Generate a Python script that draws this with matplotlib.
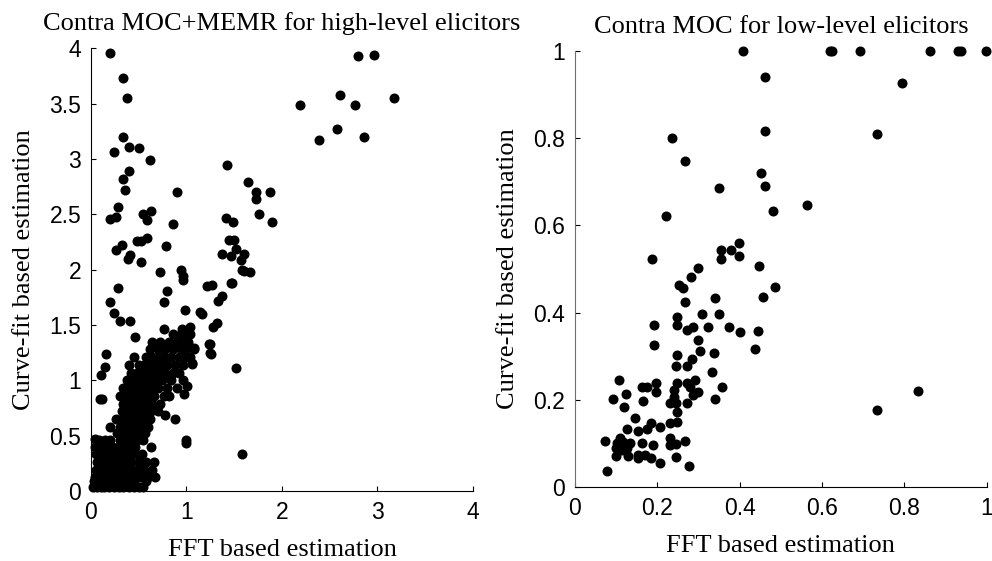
import matplotlib
matplotlib.use("Agg")
import matplotlib.pyplot as plt

# ---------------- Left panel data: Contra MOC+MEMR (high-level) ----------------
left_sparse_x = [0.20, 0.34, 0.38, 0.34, 0.24, 0.40, 0.50, 0.62, 0.40, 0.34, 0.36, 0.90,
                 0.28, 0.20, 0.26, 0.54, 0.63, 0.59, 0.86, 0.32, 0.26, 0.48, 0.52, 0.59,
                 0.79, 0.41, 0.39, 0.52, 0.72, 0.94, 0.96,
                 1.42, 1.64, 1.73, 1.73, 1.87, 1.76, 1.90, 1.41, 1.49, 1.45, 1.50, 1.52,
                 1.37, 1.47, 1.57, 1.60, 1.58, 1.60, 1.67, 1.48,
                 2.19, 2.39, 2.58, 2.61, 2.76, 2.80, 2.96, 2.86, 3.17,
                 0.28, 0.20, 0.24, 0.30, 0.41, 0.80, 0.76, 0.96, 0.98, 1.14, 1.16, 1.21,
                 1.27, 1.47, 1.37, 1.33, 1.32, 1.28, 1.24, 1.25, 1.52, 1.58, 1.00, 0.99,
                 0.76, 0.95, 1.04, 0.46, 1.25, 1.26, 1.06, 0.16, 0.15, 0.10, 0.09, 0.12,
                 0.26, 0.20, 0.04, 0.08, 0.63, 0.88, 0.78, 1.01, 0.97, 1.06, 1.08]
left_sparse_y = [3.96, 3.73, 3.55, 3.20, 3.06, 3.11, 3.10, 2.99, 2.89, 2.82, 2.72, 2.70,
                 2.57, 2.46, 2.48, 2.50, 2.53, 2.45, 2.41, 2.22, 2.18, 2.26, 2.26, 2.29,
                 2.21, 2.13, 2.10, 2.07, 1.98, 2.00, 1.94,
                 2.95, 2.79, 2.70, 2.64, 2.70, 2.50, 2.43, 2.47, 2.43, 2.27, 2.27, 2.19,
                 2.14, 2.12, 2.09, 2.14, 2.00, 1.99, 1.98, 1.88,
                 3.49, 3.17, 3.27, 3.58, 3.49, 3.93, 3.94, 3.20, 3.55,
                 1.83, 1.71, 1.61, 1.54, 1.54, 1.81, 1.71, 1.91, 1.64, 1.62, 1.60, 1.85,
                 1.86, 1.88, 1.76, 1.72, 1.52, 1.48, 1.33, 1.25, 1.11, 0.33, 0.46, 0.43,
                 1.46, 1.46, 1.48, 1.39, 1.33, 1.24, 1.15, 1.24, 1.12, 1.05, 0.83, 0.83,
                 0.65, 0.58, 0.47, 0.46, 0.40, 0.65, 0.69, 0.95, 0.88, 1.16, 1.29]

# dense cluster, read row by row (approximate y level, x positions)
dense_rows = {
    0.04: [0.02, 0.06, 0.10, 0.14, 0.19, 0.24, 0.29, 0.34, 0.40, 0.45, 0.50, 0.55],
    0.09: [0.03, 0.08, 0.13, 0.18, 0.23, 0.28, 0.33, 0.38, 0.45, 0.58],
    0.13: [0.04, 0.09, 0.15, 0.21, 0.27, 0.33, 0.39, 0.44, 0.52, 0.60, 0.67],
    0.19: [0.05, 0.11, 0.17, 0.23, 0.29, 0.35, 0.41, 0.47, 0.52, 0.56, 0.64],
    0.26: [0.06, 0.12, 0.18, 0.24, 0.30, 0.36, 0.42, 0.50, 0.58, 0.66],
    0.33: [0.05, 0.11, 0.17, 0.23, 0.29, 0.35, 0.41, 0.47, 0.53],
    0.40: [0.04, 0.10, 0.16, 0.22, 0.28, 0.34, 0.40, 0.46],
    0.46: [0.15, 0.20, 0.30, 0.36, 0.42, 0.48, 0.54],
    0.52: [0.27, 0.33, 0.39, 0.45, 0.51, 0.57],
    0.58: [0.30, 0.36, 0.42, 0.48, 0.54, 0.60],
    0.65: [0.32, 0.38, 0.44, 0.50, 0.56, 0.62],
    0.72: [0.33, 0.39, 0.45, 0.51, 0.57, 0.63, 0.70],
    0.79: [0.34, 0.40, 0.46, 0.52, 0.58, 0.64, 0.72],
    0.86: [0.30, 0.36, 0.42, 0.48, 0.54, 0.60, 0.66, 0.76, 0.82],
    0.93: [0.34, 0.40, 0.46, 0.52, 0.58, 0.64, 0.70, 0.80, 0.90],
    1.00: [0.38, 0.44, 0.50, 0.56, 0.62, 0.68, 0.74, 0.84, 0.96],
    1.07: [0.42, 0.48, 0.54, 0.60, 0.66, 0.72, 0.78, 0.86, 0.92],
    1.14: [0.40, 0.50, 0.56, 0.62, 0.68, 0.74, 0.80, 0.88, 0.96],
    1.21: [0.45, 0.58, 0.64, 0.70, 0.76, 0.84, 0.92, 0.98, 1.04],
    1.28: [0.62, 0.70, 0.78, 0.86, 0.94, 1.00, 1.08],
    1.35: [0.64, 0.72, 0.82, 0.90, 0.96, 1.02],
    1.42: [0.86, 0.94, 0.98, 1.04],
}

# ---------------- Right panel data: Contra MOC (low-level) ----------------
right_x = [0.407, 0.619, 0.625, 0.692, 0.861, 0.931, 0.938, 0.998,
           0.461, 0.795, 0.461, 0.734, 0.235, 0.268, 0.453, 0.349, 0.461, 0.480, 0.564,
           0.222, 0.188, 0.355, 0.379, 0.398, 0.355, 0.398, 0.300, 0.281, 0.253, 0.263,
           0.448, 0.485, 0.457, 0.268, 0.341, 0.249, 0.249, 0.309, 0.350, 0.193, 0.273,
           0.287, 0.322, 0.373, 0.402, 0.444, 0.438, 0.193, 0.300, 0.304, 0.337, 0.249,
           0.284, 0.273, 0.245, 0.334, 0.106, 0.163, 0.175, 0.198, 0.198, 0.249, 0.240,
           0.273, 0.291, 0.279, 0.300, 0.286, 0.356, 0.341, 0.125, 0.092, 0.119, 0.166,
           0.240, 0.231, 0.245, 0.273, 0.249, 0.147, 0.184, 0.175, 0.127, 0.152, 0.207,
           0.231, 0.249, 0.074, 0.109, 0.101, 0.117, 0.134, 0.100, 0.114, 0.126, 0.100,
           0.130, 0.162, 0.189, 0.152, 0.170, 0.184, 0.152, 0.207, 0.231, 0.231, 0.245,
           0.268, 0.245, 0.277, 0.078, 0.734, 0.832]
right_y = [1.000, 1.000, 1.000, 1.000, 1.000, 1.000, 1.000, 1.000,
           0.939, 0.927, 0.817, 0.809, 0.801, 0.747, 0.721, 0.686, 0.691, 0.633, 0.647,
           0.621, 0.524, 0.543, 0.543, 0.560, 0.524, 0.530, 0.503, 0.482, 0.463, 0.456,
           0.507, 0.459, 0.437, 0.425, 0.433, 0.391, 0.372, 0.398, 0.398, 0.372, 0.360,
           0.368, 0.368, 0.368, 0.355, 0.359, 0.316, 0.325, 0.337, 0.312, 0.307, 0.303,
           0.295, 0.278, 0.278, 0.263, 0.246, 0.229, 0.229, 0.238, 0.219, 0.240, 0.224,
           0.240, 0.246, 0.230, 0.219, 0.211, 0.229, 0.202, 0.213, 0.202, 0.185, 0.198,
           0.208, 0.194, 0.194, 0.194, 0.172, 0.159, 0.148, 0.133, 0.133, 0.130, 0.137,
           0.147, 0.150, 0.107, 0.114, 0.101, 0.104, 0.101, 0.089, 0.085, 0.089, 0.072,
           0.072, 0.102, 0.097, 0.074, 0.074, 0.066, 0.068, 0.055, 0.112, 0.097, 0.100,
           0.107, 0.069, 0.049, 0.037, 0.177, 0.221]

left_ticks = [0, 1, 2, 3, 4]
left_yticks = [0, 0.5, 1, 1.5, 2, 2.5, 3, 3.5, 4]
right_ticks = [0, 0.2, 0.4, 0.6, 0.8, 1]

title_left = "Contra MOC+MEMR for high-level elicitors"
title_right = "Contra MOC for low-level elicitors"
xlabel = "FFT based estimation"
ylabel = "Curve-fit based estimation"

dense_x = [x for y, xs in dense_rows.items() for x in xs]
dense_y = [y for y, xs in dense_rows.items() for x in xs]

serif = ["Liberation Serif", "DejaVu Serif"]
sans = ["Liberation Sans", "DejaVu Sans"]
TFS = 19
LFS = 19
TKFS = 16.5

fig = plt.figure(figsize=(9.92, 5.61), dpi=100)
axL = fig.add_axes([0.0917, 0.1248, 0.3851, 0.789])
axR = fig.add_axes([0.5796, 0.1314, 0.4151, 0.778])

def style(ax, xt, yt, xl, yl, xlabels, ylabels, lpx, lpy):
    ax.set_xlim(*xl)
    ax.set_ylim(*yl)
    ax.set_xticks(xt)
    ax.set_yticks(yt)
    ax.set_xticklabels(xlabels, fontfamily=sans, fontsize=TKFS)
    ax.set_yticklabels(ylabels, fontfamily=sans, fontsize=TKFS)
    ax.spines["top"].set_visible(False)
    ax.spines["right"].set_visible(False)
    ax.tick_params(direction="in", length=3.5, width=0.8, pad=7, top=False, right=False)
    ax.set_xlabel(xlabel, fontfamily=serif, fontsize=LFS, labelpad=lpx)
    ax.set_ylabel(ylabel, fontfamily=serif, fontsize=LFS, labelpad=lpy)

axL.plot(left_sparse_x, left_sparse_y, "o", color="black", markersize=6.2, clip_on=False)
axL.plot(dense_x, dense_y, "o", color="black", markersize=6.2, clip_on=False)
style(axL, left_ticks, left_yticks, (0, 4), (0, 4),
      ["0", "1", "2", "3", "4"], ["0", "0.5", "1", "1.5", "2", "2.5", "3", "3.5", "4"], 11, 10)
axL.set_title(title_left, fontfamily=serif, fontsize=TFS, pad=13)

axR.plot(right_x, right_y, "o", color="black", markersize=6.2, clip_on=False)
style(axR, right_ticks, right_ticks, (0, 1), (0, 1),
      ["0", "0.2", "0.4", "0.6", "0.8", "1"], ["0", "0.2", "0.4", "0.6", "0.8", "1"], 11, 10)
axR.spines["left"].set_color("#707070")
axR.set_title(title_right, fontfamily=serif, fontsize=TFS, pad=13)

fig.savefig("out.png", dpi=100)
